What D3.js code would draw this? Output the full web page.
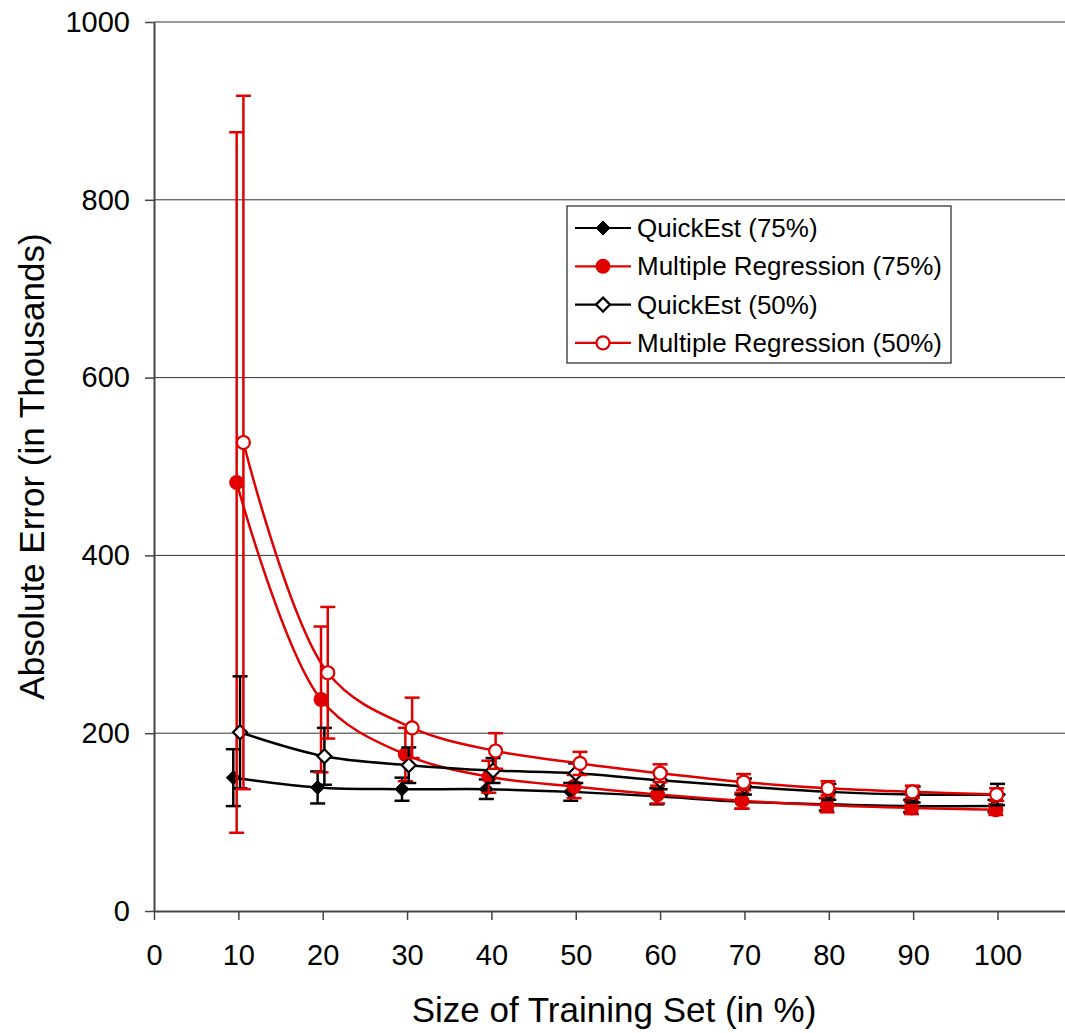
<!DOCTYPE html>
<html>
<head>
<meta charset="utf-8">
<script src="https://cdn.jsdelivr.net/npm/d3@7"></script>
<style>
  html, body { margin: 0; padding: 0; background: #fff; }
  svg { display: block; font-family: "Liberation Sans", Arial, sans-serif; }
</style>
</head>
<body>
<div id="chart"></div>
<script>
// values
const xTicks = [0, 10, 20, 30, 40, 50, 60, 70, 80, 90, 100];
const yTicks = [0, 200, 400, 600, 800, 1000];

const qe75X = [9.4, 19.4, 29.4, 39.4, 49.4, 59.6, 69.7, 79.7, 89.7, 99.7];
const qe75Y = [150, 139, 137, 137, 134, 129, 123, 120, 118, 118];
const qe75Err = [32, 18, 13, 11, 10, 9, 8, 7, 7, 7];

const mr75X = [9.8, 19.8, 29.8, 39.7, 49.8, 59.7, 69.7, 79.8, 89.8, 99.8];
const mr75Y = [482, 238, 176, 151, 140, 131, 124, 119, 116, 114];
const mr75Err = [394, 82, 30, 18, 13, 10, 9, 8, 7, 6];

const qe50X = [10.2, 20.2, 30.2, 40.2, 50.0, 60.0, 70.0, 80.0, 90.0, 100.0];
const qe50Y = [201, 174, 164, 158, 155, 147, 140, 134, 131, 131];
const qe50Err = [63, 32, 20, 14, 11, 10, 9, 9, 9, 12];

const mr50X = [10.6, 20.6, 30.6, 40.5, 50.5, 60.0, 69.9, 79.9, 89.9, 99.9];
const mr50Y = [527, 268, 206, 180, 166, 155, 145, 138, 134, 131];
const mr50Err = [390, 74, 34, 20, 13, 10, 9, 8, 7, 7];

const series = [
  { name: 'QuickEst (75%)', xs: qe75X, ys: qe75Y, err: qe75Err, color: '#000', shape: 'diamond', filled: true },
  { name: 'Multiple Regression (75%)', xs: mr75X, ys: mr75Y, err: mr75Err, color: '#e00000', shape: 'circle', filled: true },
  { name: 'QuickEst (50%)', xs: qe50X, ys: qe50Y, err: qe50Err, color: '#000', shape: 'diamond', filled: false },
  { name: 'Multiple Regression (50%)', xs: mr50X, ys: mr50Y, err: mr50Err, color: '#e00000', shape: 'circle', filled: false }
];

const width = 1065, height = 1033;
const margin = { top: 22, right: 0, bottom: 122, left: 154 };

const x = d3.scaleLinear().domain([0, 108]).range([margin.left, width]);
const y = d3.scaleLinear().domain([0, 1000]).range([height - margin.bottom, margin.top]);

const svg = d3.select('#chart').append('svg')
  .attr('width', width)
  .attr('height', height);

// gridlines
svg.append('g')
  .selectAll('line')
  .data(yTicks.slice(1))
  .join('line')
  .attr('x1', margin.left)
  .attr('x2', width)
  .attr('y1', d => y(d))
  .attr('y2', d => y(d))
  .attr('stroke', '#333')
  .attr('stroke-width', 1);

// x axis
svg.append('g')
  .attr('transform', `translate(0,${y(0)})`)
  .call(d3.axisBottom(x).tickValues(xTicks).tickFormat(d3.format('d')).tickSize(9).tickPadding(24).tickSizeOuter(0))
  .call(g => g.select('.domain').attr('stroke', '#444').attr('stroke-width', 2))
  .call(g => g.selectAll('.tick line').attr('stroke', '#444').attr('stroke-width', 1.5))
  .call(g => g.selectAll('.tick text').attr('font-size', 29).attr('fill', '#000').attr('font-family', null));

// y axis
svg.append('g')
  .attr('transform', `translate(${margin.left},0)`)
  .call(d3.axisLeft(y).tickValues(yTicks).tickFormat(d3.format('d')).tickSize(9).tickPadding(15).tickSizeOuter(0))
  .call(g => g.select('.domain').attr('stroke', '#444').attr('stroke-width', 2))
  .call(g => g.selectAll('.tick line').attr('stroke', '#444').attr('stroke-width', 1.5))
  .call(g => g.selectAll('.tick text').attr('font-size', 29).attr('fill', '#000').attr('font-family', null));

// axis titles
svg.append('text')
  .attr('x', 614)
  .attr('y', 1022)
  .attr('text-anchor', 'middle')
  .attr('font-size', 35)
  .text('Size of Training Set (in %)');

svg.append('text')
  .attr('transform', `translate(44,${y(500)}) rotate(-90)`)
  .attr('text-anchor', 'middle')
  .attr('font-size', 35)
  .text('Absolute Error (in Thousands)');

const line = d3.line()
  .x(d => x(d.x))
  .y(d => y(d.y))
  .curve(d3.curveCatmullRom);

const marker = (g, s) => {
  if (s.shape === 'diamond') {
    g.append('path')
      .attr('d', 'M0,-7L7,0L0,7L-7,0Z')
      .attr('fill', s.filled ? s.color : '#fff')
      .attr('stroke', s.color)
      .attr('stroke-width', s.filled ? 1 : 2.2);
  } else {
    g.append('circle')
      .attr('r', s.filled ? 7.5 : 6.5)
      .attr('fill', s.filled ? s.color : '#fff')
      .attr('stroke', s.color)
      .attr('stroke-width', s.filled ? 0 : 2.2);
  }
};

series.forEach(s => {
  const pts = s.xs.map((xv, i) => ({ x: xv, y: s.ys[i], e: s.err[i] }));
  const g = svg.append('g');

  // error bars
  const eb = g.append('g')
    .attr('stroke', s.color)
    .attr('stroke-width', 2.5)
    .selectAll('g')
    .data(pts)
    .join('g');
  eb.append('line')
    .attr('x1', d => x(d.x)).attr('x2', d => x(d.x))
    .attr('y1', d => y(d.y + d.e)).attr('y2', d => y(d.y - d.e));
  eb.append('line')
    .attr('x1', d => x(d.x) - 7.5).attr('x2', d => x(d.x) + 7.5)
    .attr('y1', d => y(d.y + d.e)).attr('y2', d => y(d.y + d.e));
  eb.append('line')
    .attr('x1', d => x(d.x) - 7.5).attr('x2', d => x(d.x) + 7.5)
    .attr('y1', d => y(d.y - d.e)).attr('y2', d => y(d.y - d.e));

  // line
  g.append('path')
    .datum(pts)
    .attr('fill', 'none')
    .attr('stroke', s.color)
    .attr('stroke-width', 2.5)
    .attr('d', line);

  // markers
  g.append('g')
    .selectAll('g')
    .data(pts)
    .join('g')
    .attr('transform', d => `translate(${x(d.x)},${y(d.y)})`)
    .each(function () { marker(d3.select(this), s); });
});

// legend
const legend = svg.append('g').attr('transform', 'translate(567,206)');
legend.append('rect')
  .attr('width', 384)
  .attr('height', 157)
  .attr('fill', '#fff')
  .attr('stroke', '#222')
  .attr('stroke-width', 1.2);

const item = legend.selectAll('g')
  .data(series)
  .join('g')
  .attr('transform', (d, i) => `translate(0,${22 + i * 38.3})`);
item.append('line')
  .attr('x1', 8).attr('x2', 64)
  .attr('stroke', d => d.color)
  .attr('stroke-width', 2.2);
item.append('g')
  .attr('transform', 'translate(36,0)')
  .each(function (d) { marker(d3.select(this), d); });
item.append('text')
  .attr('x', 70)
  .attr('dy', '0.35em')
  .attr('font-size', 26)
  .text(d => d.name);
</script>
</body>
</html>
